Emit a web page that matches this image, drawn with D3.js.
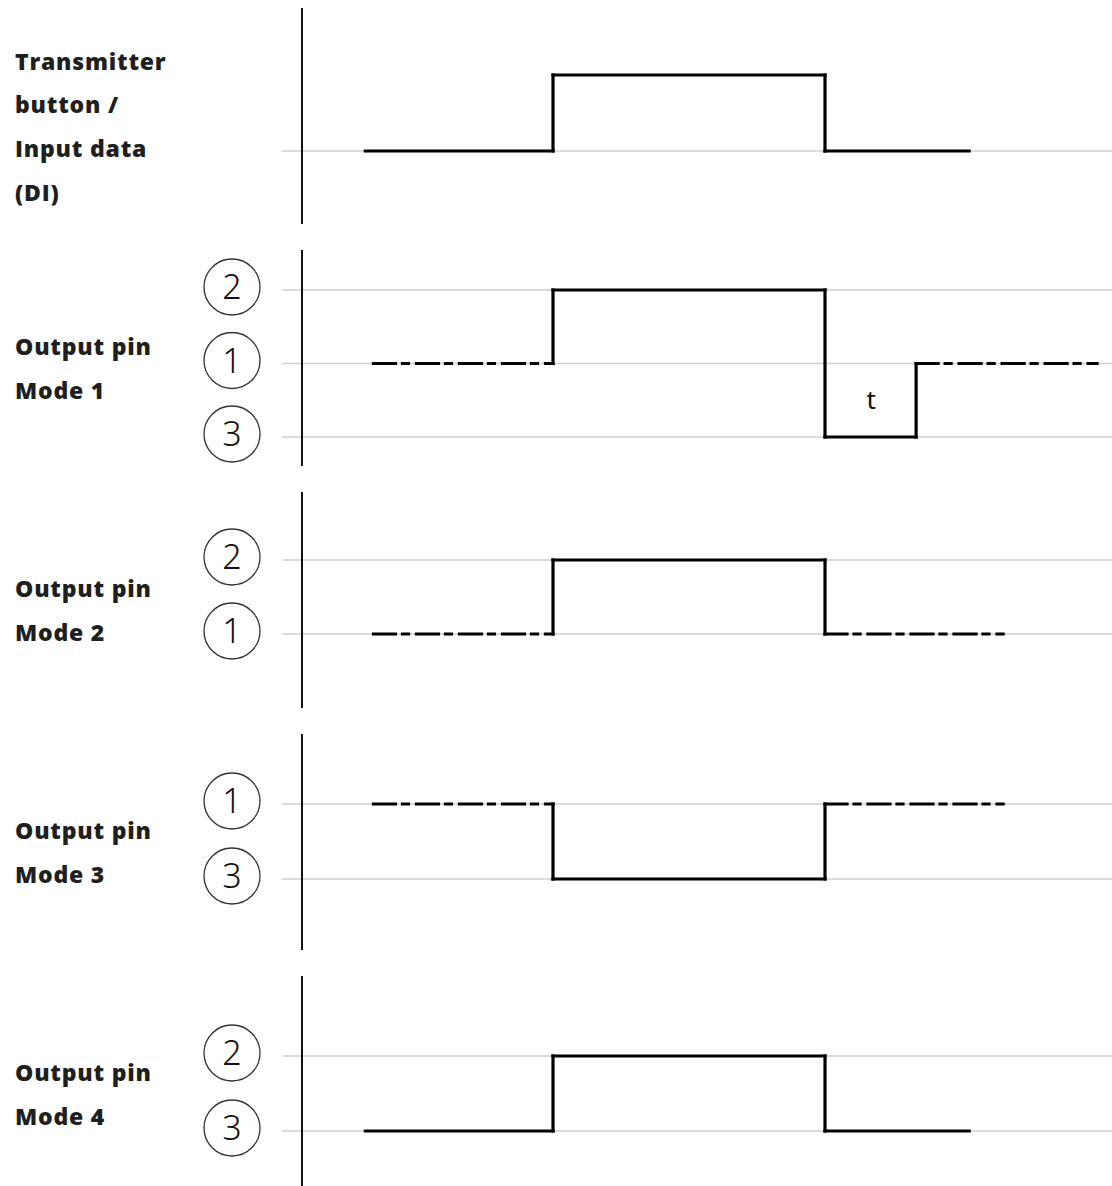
<!DOCTYPE html>
<html>
<head>
<meta charset="utf-8">
<script src="https://cdn.jsdelivr.net/npm/d3@7"></script>
<style>
  html, body { margin: 0; padding: 0; background: #fff; }
  svg { display: block; }
  .label { font-family: "Open Sans", "Noto Sans", sans-serif; font-weight: 800; font-size: 23px; letter-spacing: 0.8px; fill: #1f1f1f; }
  .num { font-family: "Noto Sans", "Open Sans", sans-serif; font-weight: 300; font-size: 34px; fill: #111; }
  .tlabel { font-family: "Noto Sans", "Open Sans", sans-serif; font-size: 26px; fill: #111; }
</style>
</head>
<body>
<svg id="chart" width="1112" height="1186"></svg>
<script>
// panels, top to bottom
var panels = ["di", "mode1", "mode2", "mode3", "mode4"];
var labels = [
  ["Transmitter", "button  /", "Input data", "(DI)"],
  ["Output pin", "Mode 1"],
  ["Output pin", "Mode 2"],
  ["Output pin", "Mode 3"],
  ["Output pin", "Mode 4"]
];
// signal levels of each panel, top first
var levels = [
  ["high", "low"],
  ["2", "1", "3"],
  ["2", "1"],
  ["1", "3"],
  ["2", "3"]
];
// levels that get a grey reference line
var gridLevels = [
  ["low"],
  ["2", "1", "3"],
  ["2", "1"],
  ["1", "3"],
  ["2", "3"]
];
// waveforms: [time, level, style of the segment to the next point]
// time unit: rise at 0, fall at 10
var waves = [
  [[-6.9, "low", "solid"], [0, "low", "solid"], [0, "high", "solid"], [10, "high", "solid"], [10, "low", "solid"], [15.3, "low"]],
  [[-6.6, "1", "dashdot"], [0, "1", "solid"], [0, "2", "solid"], [10, "2", "solid"], [10, "3", "solid"], [13.35, "3", "solid"], [13.35, "1", "dashdot"], [20, "1"]],
  [[-6.6, "1", "dashdot"], [0, "1", "solid"], [0, "2", "solid"], [10, "2", "solid"], [10, "1", "dashdot"], [16.55, "1"]],
  [[-6.6, "1", "dashdot"], [0, "1", "solid"], [0, "3", "solid"], [10, "3", "solid"], [10, "1", "dashdot"], [16.55, "1"]],
  [[-6.9, "3", "solid"], [0, "3", "solid"], [0, "2", "solid"], [10, "2", "solid"], [10, "3", "solid"], [15.3, "3"]]
];
// annotation of the pulse width in mode 1
var notes = [{ panel: 1, t: 11.7, between: ["1", "3"], text: "t" }];

var W = 1112, H = 1186;
var svg = d3.select("#chart");

var x = d3.scaleLinear().domain([0, 10]).range([553, 825]);
var axisX = 302;
var band = d3.scaleBand().domain(panels).range([-5, 5 * 242 - 5]);
// y of the first level and step between levels, per panel
var firstLevel = [75, 290, 560, 804, 1056];
var levelStep = [76, 73.5, 74, 75, 75];

function yOf(i) {
  return d3.scalePoint().domain(levels[i]).range([firstLevel[i], firstLevel[i] + levelStep[i] * (levels[i].length - 1)]);
}

panels.forEach(function(p, i){
  var g = svg.append("g").attr("class", "panel-" + p);
  var y = yOf(i);
  var cy = band(p) + band.bandwidth() / 2;

  // level grid lines
  g.selectAll("line.grid").data(gridLevels[i]).enter().append("line")
    .attr("class", "grid")
    .attr("x1", 282).attr("x2", W)
    .attr("y1", function(d){ return y(d); }).attr("y2", function(d){ return y(d); })
    .attr("stroke", "#cfcfcf").attr("stroke-width", 1.5);

  // vertical axis
  g.append("line")
    .attr("x1", axisX).attr("x2", axisX)
    .attr("y1", cy - 108).attr("y2", cy + 108)
    .attr("stroke", "#111").attr("stroke-width", 2);

  // circled numbers
  if (i > 0) {
    var c = g.selectAll("g.num").data(levels[i]).enter().append("g")
      .attr("class", "num")
      .attr("transform", function(d){ return "translate(232," + (y(d) - 3) + ")"; });
    c.append("circle").attr("r", 28).attr("fill", "#fff").attr("stroke", "#333").attr("stroke-width", 1.3);
    c.append("text").attr("class", "num").attr("text-anchor", "middle").attr("dy", "0.36em").text(function(d){ return d; });
  }

  // label text
  var lines = labels[i];
  var mid = cy + 11;
  g.selectAll("text.label").data(lines).enter().append("text")
    .attr("class", "label")
    .attr("x", 15)
    .attr("y", function(d, k){ return mid + (k - (lines.length - 1) / 2) * 43.7; })
    .attr("dy", "0.35em")
    .text(function(d){ return d; });

  // waveform segments
  var segs = d3.pairs(waves[i]);
  g.selectAll("line.sig").data(segs).enter().append("line")
    .attr("class", "sig")
    .attr("x1", function(d){ return x(d[0][0]); })
    .attr("y1", function(d){ return y(d[0][1]); })
    .attr("x2", function(d){ return x(d[1][0]); })
    .attr("y2", function(d){ return y(d[1][1]); })
    .attr("stroke", "#000").attr("stroke-width", 3.2)
    .attr("stroke-linecap", "square")
    .attr("stroke-dasharray", function(d){ return d[0][2] === "dashdot" ? "22 7 6 8" : null; });
});

notes.forEach(function(n){
  var y = yOf(n.panel);
  svg.append("text").attr("class", "tlabel")
    .attr("x", x(n.t)).attr("y", (y(n.between[0]) + y(n.between[1])) / 2)
    .attr("text-anchor", "middle").attr("dy", "0.35em")
    .text(n.text);
});
</script>
</body>
</html>
